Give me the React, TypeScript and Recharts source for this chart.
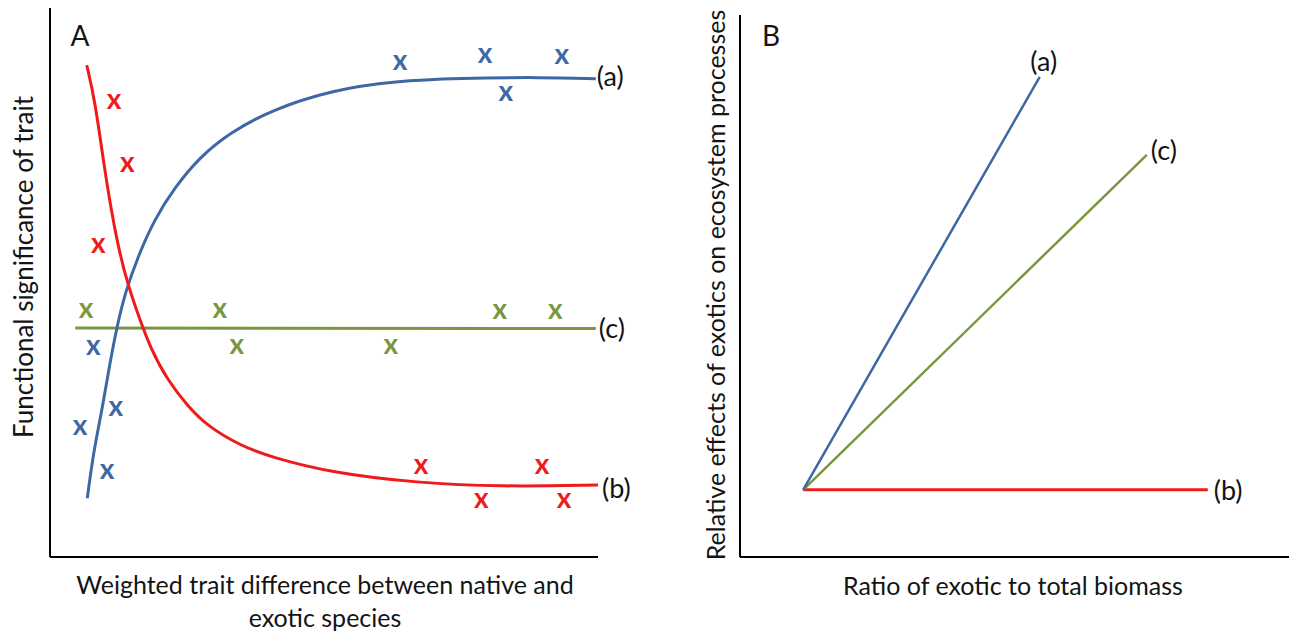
import React from 'react';
import { ComposedChart, Line, Scatter, XAxis, YAxis } from 'recharts';

const FONT = 'Lato, "Open Sans", sans-serif';
const BLUE = '#3d68a4';
const RED = '#f01a1a';
const GREEN = '#7a973f';
const INK = '#141414';

// Panel A – fitted curves (relative units, 0-100 on both axes)
const curveA = [
  { x: 6.8, y: 10.7 }, { x: 8.0, y: 19.5 }, { x: 9.5, y: 26.8 }, { x: 10.8, y: 34.6 },
  { x: 12.2, y: 41.9 }, { x: 13.7, y: 48.1 }, { x: 16.0, y: 54.6 }, { x: 19.0, y: 61.4 },
  { x: 22.8, y: 67.4 }, { x: 27.4, y: 72.9 }, { x: 32.7, y: 77.2 }, { x: 40.3, y: 81.4 },
  { x: 51.6, y: 85.1 }, { x: 63.1, y: 86.7 }, { x: 74.5, y: 87.2 }, { x: 89.8, y: 87.4 },
  { x: 99.6, y: 87.1 },
];
const curveB = [
  { x: 6.7, y: 89.6 }, { x: 8.2, y: 83.2 }, { x: 9.9, y: 71.0 }, { x: 11.4, y: 61.9 },
  { x: 12.6, y: 55.9 }, { x: 14.1, y: 49.9 }, { x: 16.4, y: 43.2 }, { x: 18.3, y: 38.2 },
  { x: 21.3, y: 32.4 }, { x: 25.1, y: 27.5 }, { x: 28.8, y: 23.8 }, { x: 34.7, y: 20.3 },
  { x: 40.3, y: 18.2 }, { x: 51.6, y: 15.3 }, { x: 67.0, y: 13.5 }, { x: 82.1, y: 12.8 },
  { x: 100, y: 13.1 },
];
const curveC = [{ x: 4.6, y: 41.7 }, { x: 99.6, y: 41.6 }];

// Panel A – observations
const pointsA = [
  { x: 63.9, y: 90.0 }, { x: 79.4, y: 91.3 }, { x: 93.4, y: 91.1 }, { x: 83.2, y: 84.3 },
  { x: 7.9, y: 38.1 }, { x: 12.0, y: 27.0 }, { x: 5.5, y: 23.5 }, { x: 10.4, y: 15.5 },
];
const pointsB = [
  { x: 11.7, y: 82.9 }, { x: 14.1, y: 71.4 }, { x: 8.8, y: 56.6 }, { x: 67.7, y: 16.4 },
  { x: 89.8, y: 16.4 }, { x: 78.7, y: 10.2 }, { x: 93.8, y: 10.2 },
];
const pointsC = [
  { x: 6.6, y: 44.8 }, { x: 31.0, y: 44.8 }, { x: 82.1, y: 44.6 }, { x: 92.2, y: 44.6 },
  { x: 34.1, y: 38.3 }, { x: 62.2, y: 38.3 },
];

// Panel B – straight responses from a common origin
const lineBa = [{ x: 11.5, y: 12.4 }, { x: 54.6, y: 88.6 }];
const lineBc = [{ x: 11.5, y: 12.4 }, { x: 74.1, y: 74.2 }];
const lineBb = [{ x: 11.5, y: 12.4 }, { x: 85.2, y: 12.4 }];

const xMark = (color: string) => (props: any) => (
  <text
    x={props.cx}
    y={props.cy + 7}
    textAnchor="middle"
    fontFamily={FONT}
    fontWeight={700}
    fontSize={28}
    fill={color}
  >
    x
  </text>
);

const endLabel = (text: string, last: number, dx: number, dy: number, anchor = 'start') => (props: any) => {
  if (props.index !== last) return null;
  return (
    <text
      x={props.x + dx}
      y={props.y + dy}
      textAnchor={anchor}
      dominantBaseline="central"
      fontFamily={FONT}
      fontSize={27}
      fill={INK}
    >
      {text}
    </text>
  );
};

const axisLine = { stroke: '#000', strokeWidth: 2 };

const abs = (style: React.CSSProperties): React.CSSProperties => ({
  position: 'absolute',
  fontFamily: FONT,
  color: INK,
  whiteSpace: 'nowrap',
  ...style,
});

export default function App() {
  return (
    <div style={{ position: 'absolute', left: 0, top: 0, width: 1289, height: 637, background: '#fff' }}>
      <div style={{ position: 'absolute', left: 0, top: 0 }}>
        <ComposedChart width={660} height={600} margin={{ top: 8, right: 62, bottom: 42, left: 49 }}>
          <XAxis type="number" dataKey="x" domain={[0, 100]} allowDataOverflow height={1} tick={false} tickLine={false} axisLine={axisLine} />
          <YAxis type="number" dataKey="y" domain={[0, 100]} allowDataOverflow width={1} tick={false} tickLine={false} axisLine={axisLine} />
          <Line data={curveC} dataKey="y" type="linear" stroke={GREEN} strokeWidth={3} dot={false} activeDot={false} isAnimationActive={false}
            label={endLabel('(c)', curveC.length - 1, 3, -1)} />
          <Line data={curveA} dataKey="y" type="basis" stroke={BLUE} strokeWidth={3} dot={false} activeDot={false} isAnimationActive={false}
            label={endLabel('(a)', curveA.length - 1, 1, -3)} />
          <Line data={curveB} dataKey="y" type="basis" stroke={RED} strokeWidth={3} dot={false} activeDot={false} isAnimationActive={false}
            label={endLabel('(b)', curveB.length - 1, 4, 2)} />
          <Scatter data={pointsA} shape={xMark(BLUE)} isAnimationActive={false} />
          <Scatter data={pointsB} shape={xMark(RED)} isAnimationActive={false} />
          <Scatter data={pointsC} shape={xMark(GREEN)} isAnimationActive={false} />
        </ComposedChart>
      </div>

      <div style={{ position: 'absolute', left: 690, top: 0 }}>
        <ComposedChart width={599} height={600} margin={{ top: 15, right: 0, bottom: 42, left: 49 }}>
          <XAxis type="number" dataKey="x" domain={[0, 100]} allowDataOverflow height={1} tick={false} tickLine={false} axisLine={axisLine} />
          <YAxis type="number" dataKey="y" domain={[0, 100]} allowDataOverflow width={1} tick={false} tickLine={false} axisLine={axisLine} />
          <Line data={lineBb} dataKey="y" type="linear" stroke={RED} strokeWidth={3} dot={false} activeDot={false} isAnimationActive={false}
            label={endLabel('(b)', 1, 6, 0)} />
          <Line data={lineBc} dataKey="y" type="linear" stroke={GREEN} strokeWidth={2.5} dot={false} activeDot={false} isAnimationActive={false}
            label={endLabel('(c)', 1, 4, -5)} />
          <Line data={lineBa} dataKey="y" type="linear" stroke={BLUE} strokeWidth={2.5} dot={false} activeDot={false} isAnimationActive={false}
            label={endLabel('(a)', 1, 4, -16, 'middle')} />
        </ComposedChart>
      </div>

      <div style={abs({ left: 80, top: 35, fontSize: 28, transform: 'translate(-50%, -50%)' })}>A</div>
      <div style={abs({ left: 771, top: 35, fontSize: 28, transform: 'translate(-50%, -50%)' })}>B</div>

      <div style={abs({ left: 23, top: 267, fontSize: 26, transform: 'translate(-50%, -50%) rotate(-90deg)' })}>
        Functional significance of trait
      </div>
      <div style={abs({ left: 325, top: 601, fontSize: 25, lineHeight: '33px', textAlign: 'center', transform: 'translate(-50%, -50%)' })}>
        Weighted trait difference between native and
        <br />
        exotic species
      </div>

      <div style={abs({ left: 715, top: 285, fontSize: 25, transform: 'translate(-50%, -50%) rotate(-90deg)' })}>
        Relative effects of exotics on ecosystem processes
      </div>
      <div style={abs({ left: 1013, top: 585, fontSize: 25, transform: 'translate(-50%, -50%)' })}>
        Ratio of exotic to total biomass
      </div>
    </div>
  );
}
